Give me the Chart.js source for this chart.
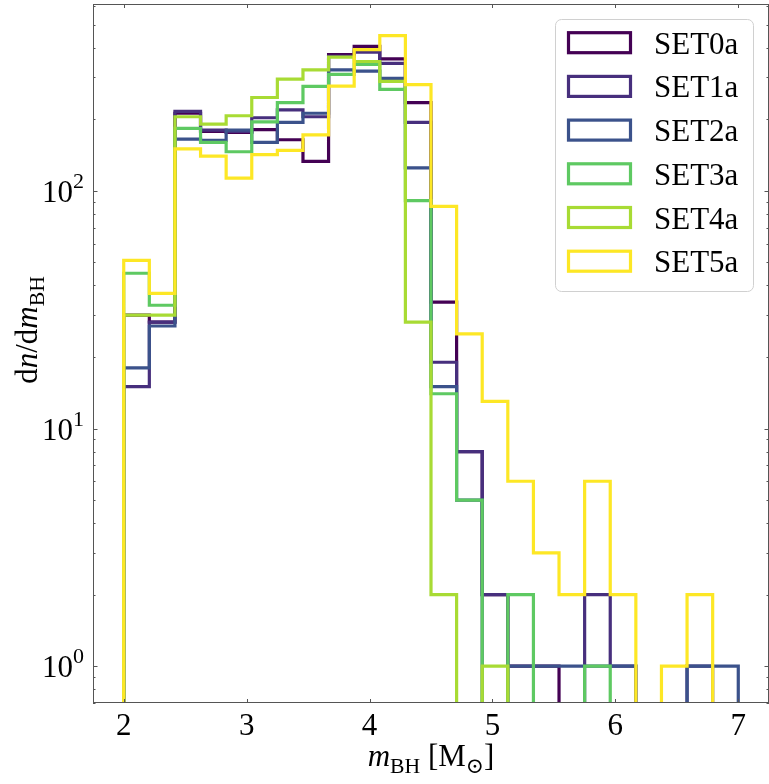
<!DOCTYPE html>
<html>
<head>
<meta charset="utf-8">
<title>BH mass function</title>
<script src="https://cdn.jsdelivr.net/npm/chart.js@4.4.0/dist/chart.umd.min.js"></script>
<style>
  html, body { margin: 0; padding: 0; background: #fff; }
  #wrap { width: 769px; height: 784px; }
</style>
</head>
<body>
<div id="wrap"><canvas id="massChart" width="769" height="784"></canvas></div>
<script>
const setNames = ["SET0a", "SET1a", "SET2a", "SET3a", "SET4a", "SET5a"];
const setColors = ["#440154", "#472f7d", "#3b528b", "#5ec962", "#a8db34", "#fde725"];

// histogram binning: 24 bins from 2 to 7 Msun
const massLow = 2;
const massHigh = 7;
const nBins = 24;

// counts per bin
const set0a = [30, 28, 212, 178, 176, 181, 164, 133, 374, 405, 359, 235, 34, 8, 2, 1, 1, 0, 0, 0, 0, 0, 0, 0];
const set1a = [15, 28, 216, 180, 178, 203, 219, 205, 368, 383, 344, 194, 19, 8, 2, 0, 0, 0, 2, 1, 0, 0, 1, 0];
const set2a = [18, 27, 165, 163, 180, 160, 194, 212, 323, 319, 297, 125, 15, 5, 0, 1, 1, 1, 1, 1, 0, 0, 1, 1];
const set3a = [45, 33, 183, 160, 146, 195, 235, 275, 309, 340, 267, 91, 14, 5, 0, 2, 0, 0, 1, 0, 0, 0, 0, 0];
const set4a = [30, 30, 205, 191, 207, 247, 295, 323, 365, 350, 289, 28, 2, 0, 1, 0, 0, 0, 0, 0, 0, 0, 0, 0];
const set5a = [51, 37, 150, 140, 113, 142, 148, 172, 276, 393, 450, 280, 86, 25, 13, 6, 3, 2, 6, 2, 0, 1, 2, 0];
const allSets = [set0a, set1a, set2a, set3a, set4a, set5a];

const xTicks = [2, 3, 4, 5, 6, 7];
const yDecades = [1, 10, 100];
const yDecadeExp = ["0", "1", "2"];

const serif = '"Liberation Serif", "DejaVu Serif", serif';
const zeroLevel = 1e-3; // empty bins fall off the bottom of the log axis

// outline of a step histogram, starting and ending on the floor
function stepPoints(counts) {
  const w = (massHigh - massLow) / nBins;
  const pts = [{ x: massLow, y: zeroLevel }];
  counts.forEach((c, i) => {
    const v = c > 0 ? c : zeroLevel;
    pts.push({ x: massLow + i * w, y: v });
    pts.push({ x: massLow + (i + 1) * w, y: v });
  });
  pts.push({ x: massHigh, y: zeroLevel });
  return pts;
}

// draw a run of [text, style] pieces; style r = roman, i = italic, s = subscript
function runFont(s, size) {
  const fs = s === "s" ? size * 0.7 : size;
  return (s === "i" ? "italic " : "") + fs + "px " + serif;
}
function mathWidth(ctx, runs, size) {
  let w = 0;
  runs.forEach(([t, s]) => {
    ctx.font = runFont(s, size);
    w += ctx.measureText(t).width;
  });
  return w;
}
function drawMath(ctx, runs, x, y, size) {
  let cx = x - mathWidth(ctx, runs, size) / 2;
  runs.forEach(([t, s]) => {
    ctx.font = runFont(s, size);
    ctx.fillText(t, cx, s === "s" ? y + size * 0.22 : y);
    cx += ctx.measureText(t).width;
  });
}

const axisDecor = {
  id: "axisDecor",
  afterDraw(chart) {
    const { ctx, chartArea: a, scales: { x, y } } = chart;
    ctx.save();
    ctx.strokeStyle = "#555";
    ctx.lineWidth = 1;
    ctx.beginPath();
    // x ticks, inside, top and bottom
    xTicks.forEach(v => {
      const px = Math.round(x.getPixelForValue(v)) + 0.5;
      ctx.moveTo(px, a.bottom); ctx.lineTo(px, a.bottom - 4);
      ctx.moveTo(px, a.top); ctx.lineTo(px, a.top + 4);
    });
    // log ticks, majors and minors, left and right
    for (let e = -1; e <= 2; e++) {
      for (let m = 1; m <= 9; m++) {
        const v = m * Math.pow(10, e);
        if (v < y.min || v > y.max) continue;
        const py = Math.round(y.getPixelForValue(v)) + 0.5;
        const len = m === 1 ? 4.5 : 2.5;
        ctx.moveTo(a.left, py); ctx.lineTo(a.left + len, py);
        ctx.moveTo(a.right, py); ctx.lineTo(a.right - len, py);
      }
    }
    ctx.stroke();
    ctx.strokeRect(a.left + 0.5, a.top + 0.5, a.width - 1, a.height - 1);

    // y tick labels 10^n
    ctx.fillStyle = "#000";
    ctx.textBaseline = "alphabetic";
    yDecades.forEach((v, i) => {
      const py = y.getPixelForValue(v);
      ctx.font = "22px " + serif;
      const ew = ctx.measureText(yDecadeExp[i]).width;
      ctx.textAlign = "right";
      ctx.fillText(yDecadeExp[i], 84, py - 3);
      ctx.font = "31px " + serif;
      ctx.fillText("10", 84 - ew, py + 11);
    });

    // axis titles
    ctx.textAlign = "left";
    drawMath(ctx, [["m", "i"], ["BH", "s"], [" [M", "r"], ["\u2299", "s"], ["]", "r"]],
      (a.left + a.right) / 2, 766, 31);
    ctx.save();
    ctx.translate(37, 330);
    ctx.rotate(-Math.PI / 2);
    drawMath(ctx, [["d", "r"], ["n", "i"], ["/d", "r"], ["m", "i"], ["BH", "s"]], 0, 0, 31);
    ctx.restore();

    // legend
    const lx = 555, ly = 19, lw = 198, lh = 272;
    ctx.fillStyle = "rgba(255,255,255,0.8)";
    ctx.strokeStyle = "#d0d0d0";
    ctx.lineWidth = 1;
    ctx.beginPath();
    ctx.roundRect(lx + 0.5, ly + 0.5, lw, lh, 6);
    ctx.fill();
    ctx.stroke();
    ctx.font = "31px " + serif;
    ctx.textBaseline = "alphabetic";
    setNames.forEach((name, i) => {
      const cy = 42.7 + i * 43.7;
      ctx.strokeStyle = setColors[i];
      ctx.lineWidth = 3.2;
      ctx.strokeRect(568.5, cy - 10, 62, 20);
      ctx.fillStyle = "#000";
      ctx.fillText(name, 654, cy + 11);
    });
    ctx.restore();
  }
};

const datasets = allSets.map((counts, i) => ({
  label: setNames[i],
  data: stepPoints(counts),
  borderColor: setColors[i],
  borderWidth: 3.2,
  borderJoinStyle: "miter",
  pointRadius: 0,
  fill: false,
  tension: 0,
  clip: 0,
  order: allSets.length - i // last set ends up on top
}));

new Chart(document.getElementById("massChart"), {
  type: "line",
  data: { datasets },
  options: {
    responsive: false,
    animation: false,
    layout: { padding: { top: 4, right: 0, left: 0, bottom: 0 } },
    plugins: { legend: { display: false }, tooltip: { enabled: false } },
    scales: {
      x: {
        type: "linear",
        min: 1.75,
        max: 7.25,
        grid: { display: false, drawTicks: false },
        border: { display: false },
        afterBuildTicks: s => { s.ticks = xTicks.map(v => ({ value: v })); },
        afterFit: s => { s.height = 81; },
        ticks: {
          color: "#000",
          padding: 5,
          maxRotation: 0,
          font: { family: serif, size: 31 }
        }
      },
      y: {
        type: "logarithmic",
        min: 0.737,
        max: 611,
        grid: { display: false, drawTicks: false },
        border: { display: false },
        ticks: { display: false },
        afterFit: s => { s.width = 93; }
      }
    }
  },
  plugins: [axisDecor]
});
</script>
</body>
</html>
